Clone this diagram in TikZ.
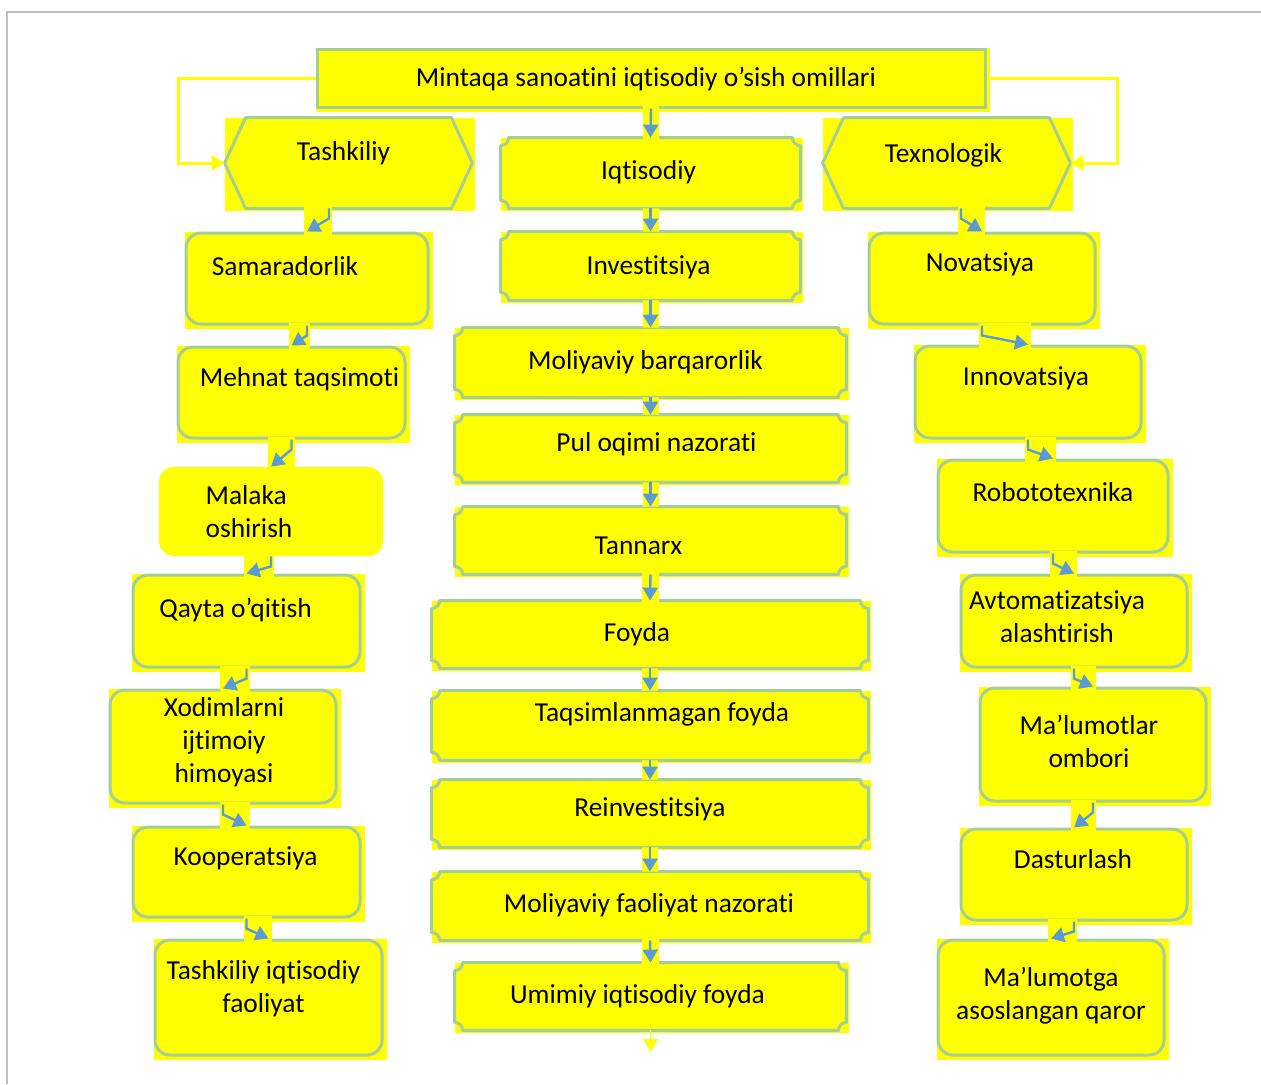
\documentclass[tikz,border=0pt]{standalone}
\usepackage{fontspec}
\setmainfont{Carlito}[Ligatures=NoCommon]
\usetikzlibrary{arrows.meta,backgrounds}

\definecolor{yel}{RGB}{255,255,0}
\definecolor{edge}{RGB}{165,205,150}
\definecolor{arrblue}{RGB}{91,155,213}
\definecolor{framegray}{RGB}{191,191,191}
\newcommand{\boxfont}{\fontsize{13.7}{16.5}\selectfont}

\tikzset{
  sqbox/.style={draw=edge, fill=yel, line width=1.5pt, inner sep=0pt},
  rbox/.style={draw=edge, fill=yel, line width=1.5pt, rounded corners=7.5pt, inner sep=0pt},
  softbox/.style={fill=yel, rounded corners=7.5pt, inner sep=0pt},
  flatbox/.style={fill=yel, inner sep=0pt},
  edgeline/.style={draw=edge, line width=1.5pt, line join=round},
  barr/.style={draw=arrblue, line width=1.2pt, -{Triangle[width=7.5pt,length=6.5pt]}},
  yarr/.style={draw=yel, line width=1.5pt, -{Triangle[width=7.5pt,length=6.5pt]}},
  every label/.style={font=\boxfont, align=center, inner sep=0pt},
}

\begin{document}
\begin{tikzpicture}[x=0.5pt, y=-0.5pt]
\useasboundingbox (0,0) rectangle (1261,1084);
\draw[framegray, line width=1pt] (6,12) -- (1261,12);
\draw[framegray, line width=1pt] (7,12) -- (7,1084);

\node[sqbox, minimum width=334pt, minimum height=29pt, label={[shift={(-5,1)}]center:Mintaqa sanoatini iqtisodiy o’sish omillari}] (top) at (651,78) {};
\node[flatbox, minimum width=123.5pt, minimum height=45pt, label={[shift={(-5,-10)}]center:Tashkiliy}] (tash) at (348.5,163) {};
\node[flatbox, minimum width=123.5pt, minimum height=45pt, label={[shift={(-3,-8)}]center:Texnologik}] (texn) at (946.5,163) {};

\node[flatbox, minimum width=149.5pt, minimum height=35pt, label={[shift={(-2,-1)}]center:Iqtisodiy}] (iqt) at (650.5,173) {};
\node[flatbox, minimum width=149.5pt, minimum height=34pt, label={[shift={(-2,1)}]center:Investitsiya}] (inv) at (650.5,266) {};
\node[flatbox, minimum width=195.5pt, minimum height=34.5pt, label={[shift={(-5,0)}]center:Moliyaviy barqarorlik}] (molb) at (650.5,362.5) {};
\node[flatbox, minimum width=195.5pt, minimum height=33.5pt, label={[shift={(6,-4)}]center:Pul oqimi nazorati}] (pul) at (650.5,448.5) {};
\node[flatbox, minimum width=195.5pt, minimum height=33.5pt, label={[shift={(-12,5)}]center:Tannarx}] (tann) at (650.5,540.5) {};
\node[flatbox, minimum width=218pt, minimum height=33.5pt, label={[shift={(-13,0)}]center:Foyda}] (foyda) at (650,634.5) {};
\node[flatbox, minimum width=218pt, minimum height=34.5pt, label={[shift={(12,-11)}]center:Taqsimlanmagan foyda}] (taqs) at (650,725.5) {};
\node[flatbox, minimum width=218pt, minimum height=33.5pt, label={[shift={(0,-4)}]center:Reinvestitsiya}] (reinv) at (650,813.5) {};
\node[flatbox, minimum width=218pt, minimum height=34pt, label={[shift={(-1,-1)}]center:Moliyaviy faoliyat nazorati}] (mfn) at (650,906) {};
\node[flatbox, minimum width=195.5pt, minimum height=33.5pt, label={[shift={(-13,0)}]center:Umimiy iqtisodiy foyda}] (umum) at (650.5,996.5) {};

\node[rbox, minimum width=121pt, minimum height=45.5pt, label={[shift={(-22,-12)}]center:Samaradorlik}] (samar) at (307,278.5) {};
\node[rbox, minimum width=113.5pt, minimum height=45.5pt, label={[shift={(8,-13)}]center:Mehnat taqsimoti}] (mehnat) at (291.5,392.5) {};
\node[softbox, minimum width=112pt, minimum height=44.5pt, label={[shift={(-22,0)}, align=left]center:Malaka\\oshirish}] (malaka) at (271,511.5) {};
\node[rbox, minimum width=113.5pt, minimum height=46pt, label={[shift={(-11,-11)}]center:Qayta o’qitish}] (qayta) at (246.5,621) {};
\node[rbox, minimum width=113pt, minimum height=56.5pt, label={[shift={(1,-4)}]center:Xodimlarni\\ijtimoiy\\himoyasi}] (xodim) at (223,746.5) {};
\node[rbox, minimum width=113.5pt, minimum height=45pt, label={[shift={(-1,-14)}]center:Kooperatsiya}] (koop) at (246.5,872) {};
\node[rbox, minimum width=113.5pt, minimum height=57.5pt, label={[shift={(-5,-9)}]center:Tashkiliy iqtisodiy\\faoliyat}] (tiqt) at (268.5,997.5) {};

\node[rbox, minimum width=113pt, minimum height=45.5pt, label={[shift={(-2,-14)}]center:Novatsiya}] (nov) at (982,278.5) {};
\node[rbox, minimum width=113pt, minimum height=46pt, label={[shift={(-2,-14)}]center:Innovatsiya}] (inn) at (1028,392) {};
\node[rbox, minimum width=115pt, minimum height=46pt, label={[shift={(0,-14)}]center:Robototexnika}] (rob) at (1053,506) {};
\node[rbox, minimum width=113pt, minimum height=46pt, label={[shift={(-17,-4)}]center:Avtomatizatsiya\\alashtirish}] (avt) at (1074,621) {};
\node[rbox, minimum width=113pt, minimum height=56.5pt, label={[shift={(-4,-3)}]center:Ma’lumotlar\\ombori}] (malo) at (1093,744.5) {};
\node[rbox, minimum width=113pt, minimum height=45.5pt, label={[shift={(-1,-15)}]center:Dasturlash}] (dast) at (1074,874.5) {};
\node[rbox, minimum width=113pt, minimum height=57.5pt, label={[shift={(0,-2)}]center:Ma’lumotga\\asoslangan qaror}] (mqar) at (1051,997.5) {};

\begin{scope}[on background layer]
\foreach \n in {top,tash,texn,iqt,inv,molb,pul,tann,foyda,taqs,reinv,mfn,umum,samar,mehnat,qayta,xodim,koop,tiqt,nov,inn,rob,avt,malo,dast,mqar}
  \fill[yel] (\n.north west) rectangle ([shift={(1.5pt,-1.5pt)}]\n.south east);
\end{scope}

\foreach \n in {tash,texn}
  \draw[edgeline] (\n.west) -- ([xshift=10.5pt]\n.north west) -- ([xshift=-10.5pt]\n.north east) -- (\n.east) -- ([xshift=-10.5pt]\n.south east) -- ([xshift=10.5pt]\n.south west) -- cycle;
\foreach \n in {iqt,inv,molb,pul,tann,foyda,taqs,reinv,mfn,umum}
  \draw[edgeline] ([yshift=-4pt]\n.north west) arc[start angle=-90, end angle=0, radius=4pt] -- ([xshift=-4pt]\n.north east) arc[start angle=180, end angle=270, radius=4pt] -- ([yshift=4pt]\n.south east) arc[start angle=90, end angle=180, radius=4pt] -- ([xshift=4pt]\n.south west) arc[start angle=0, end angle=90, radius=4pt] -- cycle;

\draw[yarr] (top.west) -- ++(-137,0) |- (tash.west);
\draw[yarr] (top.east) -- ++(131,0) |- (texn.east);

\foreach \a/\b in {top/iqt,iqt/inv,inv/molb,molb/pul,pul/tann,tann/foyda,foyda/taqs,taqs/reinv,reinv/mfn,mfn/umum} {
  \filldraw[yel, line width=8pt] (\a.south) rectangle (\b.north);
  \draw[barr] (\a.south) -- (\b.north);
}
\coordinate (fin) at (650.5,1052);
\draw[yarr, line width=0.8pt] (umum.south) -- (fin);

\filldraw[yel, line width=3pt] ([xshift=-9.75pt]tash.south) rectangle (samar.north);
\draw[barr] ([xshift=-9.75pt]tash.south) -- ++(0,10) -- (samar.north);
\filldraw[yel, line width=3pt] ([xshift=7.25pt]texn.south) rectangle (nov.north);
\draw[barr] ([xshift=7.25pt]texn.south) -- ++(0,10) -- (nov.north);
\foreach \a/\b in {samar/mehnat,mehnat/malaka,malaka/qayta,qayta/xodim,xodim/koop,koop/tiqt,nov/inn,inn/rob,rob/avt,avt/malo,malo/dast,dast/mqar} {
  \filldraw[yel, line width=3pt] (\a.south) rectangle (\b.north);
  \draw[barr] (\a.south) -- ++(0,10) -- (\b.north);
}
\end{tikzpicture}
\end{document}
